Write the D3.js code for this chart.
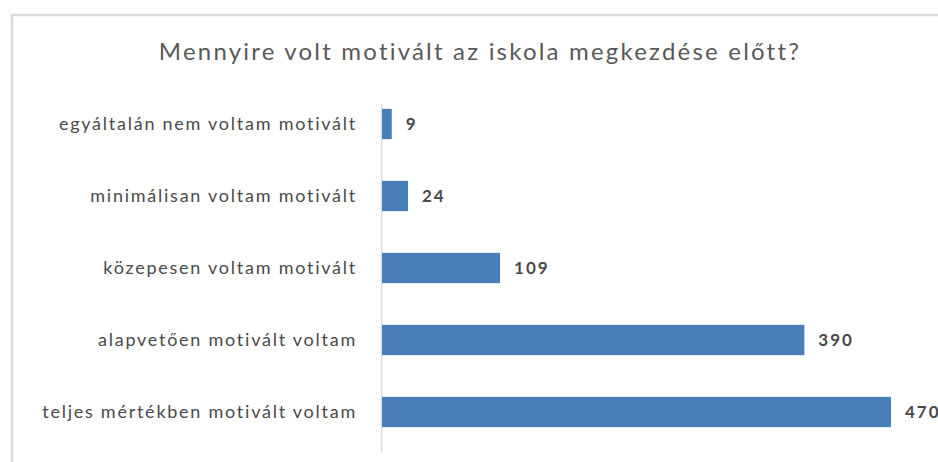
<!DOCTYPE html>
<html><head><meta charset="utf-8">
<script src="https://cdn.jsdelivr.net/npm/d3@7"></script>
<style>body{margin:0;background:#fff;}svg{display:block;}</style>
</head><body>
<svg id="c" width="938" height="462"></svg>
<script>
const title = "Mennyire volt motivált az iskola megkezdése előtt?";
const categories = ["egyáltalán nem voltam motivált","minimálisan voltam motivált","közepesen voltam motivált","alapvetően motivált voltam","teljes mértékben motivált voltam"];
const values = [9,24,109,390,470];

const svg = d3.select("#c");
svg.append("path").attr("d","M12,462 L12,15 L938,15").attr("fill","none").attr("stroke","#dcdcdc").attr("stroke-width",2.5);

const x = d3.scaleLinear().domain([0,470]).range([381,890]);
const y = d3.scaleBand().domain(categories).range([88,448]).paddingInner(0.58).paddingOuter(0.29);

svg.append("text").attr("x",480).attr("y",60).attr("text-anchor","middle")
  .attr("font-family","Lato, sans-serif").attr("font-size",24).attr("letter-spacing","2.2px")
  .attr("fill","#595959").text(title);

const yAxis = d3.axisLeft(y).tickSize(0).tickPadding(24);
const g = svg.append("g").attr("transform","translate(381,0)").call(yAxis);
g.select(".domain").attr("stroke","#dcdcdc").attr("stroke-width",1.5).attr("d","M0.5,104V452");
g.selectAll("text").attr("font-family","Lato, sans-serif").attr("font-size",18)
  .attr("letter-spacing","1.75px").attr("fill","#4a4a4a");

svg.selectAll("rect.bar").data(values).join("rect").attr("class","bar")
  .attr("x",x(0)+1).attr("y",(d,i)=>y(categories[i]))
  .attr("width",d=>x(d)-x(0)).attr("height",y.bandwidth())
  .attr("fill","#4a7ebb");

svg.selectAll("text.val").data(values).join("text").attr("class","val")
  .attr("x",d=>x(d)+15).attr("y",(d,i)=>y(categories[i])+y.bandwidth()/2)
  .attr("dy","0.35em").attr("font-family","Lato, sans-serif").attr("font-weight","bold")
  .attr("font-size",17).attr("letter-spacing","2px").attr("fill","#4a4a4a").text(d=>d);
</script>
</body></html>
